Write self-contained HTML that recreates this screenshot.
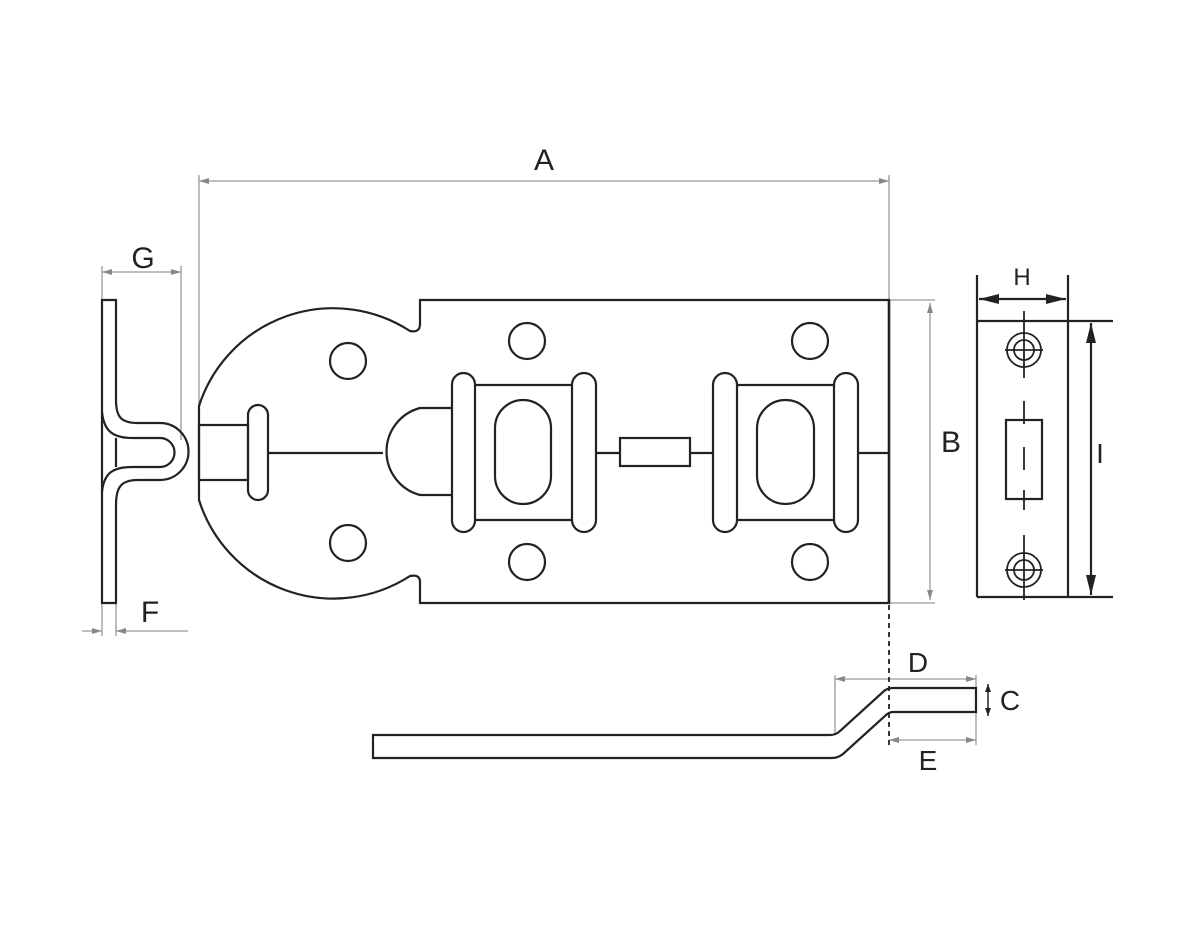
<!DOCTYPE html>
<html><head><meta charset="utf-8"><style>
html,body{margin:0;padding:0;background:#fff;}
svg{display:block;}
text{font-family:"Liberation Sans",sans-serif;fill:#222;}
</style></head><body>
<svg width="1200" height="946" viewBox="0 0 1200 946" xmlns="http://www.w3.org/2000/svg">
<defs>
<marker id="ag" viewBox="0 0 10 6" refX="10" refY="3" markerWidth="10" markerHeight="6" orient="auto-start-reverse" markerUnits="userSpaceOnUse"><path d="M0,0 L10,3 L0,6 z" fill="#888"/></marker>
<marker id="ab" viewBox="0 0 20 10" refX="20" refY="5" markerWidth="20" markerHeight="10" orient="auto-start-reverse" markerUnits="userSpaceOnUse"><path d="M0,0 L20,5 L0,10 z" fill="#222"/></marker>
<marker id="as" viewBox="0 0 8 6" refX="8" refY="3" markerWidth="8" markerHeight="6" orient="auto-start-reverse" markerUnits="userSpaceOnUse"><path d="M0,0 L8,3 L0,6 z" fill="#222"/></marker>
</defs>
<g fill="none" stroke="#999" stroke-width="1.3">
<!-- A -->
<line x1="199" y1="181" x2="889" y2="181" marker-start="url(#ag)" marker-end="url(#ag)"/>
<line x1="199" y1="175" x2="199" y2="420"/>
<line x1="889" y1="175" x2="889" y2="300"/>
<!-- B -->
<line x1="889" y1="300" x2="935" y2="300"/>
<line x1="889" y1="603" x2="935" y2="603"/>
<line x1="930" y1="303" x2="930" y2="600" marker-start="url(#ag)" marker-end="url(#ag)"/>
<!-- G -->
<line x1="102" y1="272" x2="181" y2="272" marker-start="url(#ag)" marker-end="url(#ag)"/>
<line x1="102" y1="266" x2="102" y2="300"/>
<line x1="181" y1="266" x2="181" y2="440"/>
<!-- F -->
<line x1="102" y1="603" x2="102" y2="636"/>
<line x1="116" y1="603" x2="116" y2="636"/>
<line x1="82" y1="631" x2="102" y2="631" marker-end="url(#ag)"/>
<line x1="188" y1="631" x2="116" y2="631" marker-end="url(#ag)"/>
<!-- D / E -->
<line x1="835" y1="679" x2="976" y2="679" marker-start="url(#ag)" marker-end="url(#ag)"/>
<line x1="835" y1="675" x2="835" y2="735"/>
<line x1="976" y1="675" x2="976" y2="745"/>
<line x1="889" y1="740" x2="976" y2="740" marker-start="url(#ag)" marker-end="url(#ag)"/>
</g>
<text x="544" y="170" font-size="30" text-anchor="middle">A</text>
<text x="951" y="452" font-size="30" text-anchor="middle">B</text>
<text x="143" y="268" font-size="30" text-anchor="middle">G</text>
<text x="150" y="622" font-size="30" text-anchor="middle">F</text>
<text x="918" y="672" font-size="28" text-anchor="middle">D</text>
<text x="928" y="770" font-size="28" text-anchor="middle">E</text>
<text x="1010" y="710" font-size="28" text-anchor="middle">C</text>
<text x="1022" y="285" font-size="24" text-anchor="middle">H</text>
<text x="1100" y="463" font-size="28" text-anchor="middle">I</text>

<g fill="none" stroke="#222" stroke-width="2.2">
<!-- main plate -->
<path d="M420,300 L889,300 L889,603 L420,603 L420,582 Q420,574 410,576 A141,141 0 0 1 199,500 L199,406 A141,141 0 0 1 410,331 Q420,333 420,324 Z"/>
<line x1="889" y1="300" x2="889" y2="603" stroke-width="2.5"/>
<rect x="199" y="425" width="49" height="55"/>
<rect x="248" y="405" width="20" height="95" rx="10"/>
<line x1="268" y1="453" x2="383" y2="453"/>
<path d="M452,408 L420,408 A45,45 0 0 0 420,495 L452,495"/>
<rect x="452" y="373" width="23" height="159" rx="11.5"/>
<path d="M475,385 L572,385 M475,520 L572,520"/>
<rect x="572" y="373" width="24" height="159" rx="12"/>
<rect x="495" y="400" width="56" height="104" rx="28"/>
<line x1="596" y1="453" x2="620" y2="453"/>
<rect x="620" y="438" width="70" height="28"/>
<line x1="690" y1="453" x2="713" y2="453"/>
<rect x="713" y="373" width="24" height="159" rx="12"/>
<path d="M737,385 L834,385 M737,520 L834,520"/>
<rect x="834" y="373" width="24" height="159" rx="12"/>
<rect x="757" y="400" width="57" height="104" rx="28.5"/>
<line x1="858" y1="453" x2="889" y2="453"/>
<circle cx="348" cy="361" r="18"/>
<circle cx="348" cy="543" r="18"/>
<circle cx="527" cy="341" r="18"/>
<circle cx="527" cy="562" r="18"/>
<circle cx="810" cy="341" r="18"/>
<circle cx="810" cy="562" r="18"/>

<!-- left bracket -->
<path d="M102,300 L116,300 L116,400 C116,418 122,423 138,423 L160,423 A28.5,28.5 0 0 1 160,480 L138,480 C122,480 116,486 116,505 L116,603 L102,603 Z"/>
<path d="M102,412 C104,432 114,438 132,438 L160,438 A14.5,14.5 0 0 1 160,467 L132,467 C114,467 104,472 102,492"/>
<line x1="116" y1="438" x2="116" y2="467"/>

<!-- right view -->
<line x1="977" y1="275" x2="977" y2="597"/>
<line x1="1068" y1="275" x2="1068" y2="597"/>
<line x1="977" y1="321" x2="1113" y2="321"/>
<line x1="977" y1="597" x2="1113" y2="597"/>
<line x1="979" y1="299" x2="1066" y2="299" marker-start="url(#ab)" marker-end="url(#ab)"/>
<line x1="1091" y1="323" x2="1091" y2="595" marker-start="url(#ab)" marker-end="url(#ab)"/>
<rect x="1006" y="420" width="36" height="79"/>
<g stroke-width="1.8">
<circle cx="1024" cy="350" r="17"/><circle cx="1024" cy="350" r="10"/>
<line x1="1005" y1="350" x2="1043" y2="350"/>
<circle cx="1024" cy="570" r="17"/><circle cx="1024" cy="570" r="10"/>
<line x1="1005" y1="570" x2="1043" y2="570"/>
<line x1="1024" y1="311" x2="1024" y2="378"/>
<line x1="1024" y1="401" x2="1024" y2="424"/>
<line x1="1024" y1="447" x2="1024" y2="470"/>
<line x1="1024" y1="490" x2="1024" y2="510"/>
<line x1="1024" y1="535" x2="1024" y2="600"/>
</g>

<!-- bottom bar -->
<path d="M373,735 L830,735 Q836,735 840,731 L884,691 Q888,688 893,688 L976,688 L976,712 L893,712 Q889,712 885,716 L843,754 Q838,758 832,758 L373,758 Z"/>
<line x1="988" y1="684" x2="988" y2="716" stroke-width="1.5" marker-start="url(#as)" marker-end="url(#as)"/>
<line x1="889" y1="605" x2="889" y2="748" stroke-width="1.8" stroke-dasharray="5,4"/>
</g>
</svg>
</body></html>
